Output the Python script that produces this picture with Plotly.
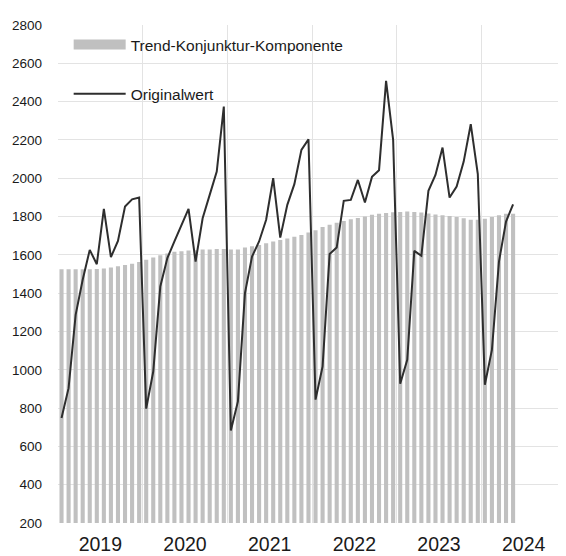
import plotly.graph_objects as go

years = ["2019", "2020", "2021", "2022", "2023", "2024"]

trend = [
    1525, 1525, 1525, 1525, 1525, 1526, 1529, 1534, 1540, 1547, 1553, 1562,
    1575, 1586, 1598, 1607, 1616, 1619, 1623, 1624, 1628, 1628, 1630, 1630,
    1628, 1628, 1638, 1645, 1652, 1661, 1670, 1677, 1685, 1694, 1704, 1717,
    1729, 1746, 1757, 1767, 1777, 1786, 1793, 1800, 1809, 1814, 1819, 1823,
    1824, 1826, 1824, 1821, 1816, 1810, 1807, 1803, 1797, 1791, 1783, 1783,
    1789, 1797, 1807, 1814, 1814,
]

original = [
    748, 904, 1287, 1470, 1626, 1551, 1840, 1588, 1673, 1852, 1890, 1899,
    797, 991, 1435, 1583, 1670, 1760, 1840, 1565, 1791, 1913, 2035, 2374,
    683, 835, 1400, 1591, 1670, 1783, 2000, 1690, 1861, 1969, 2148, 2203,
    844, 1017, 1605, 1638, 1882, 1887, 1991, 1873, 2007, 2042, 2508, 2200,
    927, 1052, 1621, 1595, 1934, 2017, 2160, 1899, 1957, 2087, 2282, 2021,
    922, 1104, 1565, 1774, 1864,
]

months = list(range(len(original)))
n_years = len(years)

FONT = "Liberation Sans, Arial, sans-serif"
BAR_COLOR = "#c0c0c0"
LINE_COLOR = "#2e2e2e"
GRID = "#e3e3e3"
TXT = "#1a1a1a"

fig = go.Figure()
fig.add_trace(go.Bar(
    x=months, y=trend, marker=dict(color=BAR_COLOR, line=dict(width=0)),
    width=0.58, showlegend=False, name="Trend-Konjunktur-Komponente",
))
fig.add_trace(go.Scatter(
    x=[None], y=[None], mode="lines", name="Trend-Konjunktur-Komponente",
    line=dict(color=BAR_COLOR, width=10), legendgroup="a",
))
fig.add_trace(go.Scatter(
    x=months, y=original, mode="lines", name="Originalwert",
    line=dict(color=LINE_COLOR, width=2), legendgroup="b",
))

fig.update_layout(
    width=558, height=548,
    margin=dict(l=50, r=0, t=17, b=33),
    paper_bgcolor="white", plot_bgcolor="white",
    font=dict(family=FONT, color=TXT),
    showlegend=True,
    legend=dict(
        x=0.021, y=0.994, xanchor="left", yanchor="top",
        font=dict(size=15.5, family=FONT, color=TXT),
        bgcolor="rgba(0,0,0,0)", itemwidth=52, tracegroupgap=26,
        traceorder="grouped",
    ),
    bargap=0.42,
)
fig.update_yaxes(
    range=[200, 2800], dtick=200, tick0=200, showgrid=True, gridcolor=GRID,
    gridwidth=1, zeroline=False, showline=False, ticks="", automargin=False,
    tickfont=dict(size=13.5, family=FONT, color=TXT), ticklabelstandoff=15,
)
fig.update_xaxes(
    range=[-0.5, 12 * n_years - 0.5], showgrid=False, zeroline=False,
    showline=False, ticks="", automargin=False,
    tickmode="array", tickvals=[12 * i + 5.5 for i in range(n_years)], ticktext=years,
    tickfont=dict(size=19.5, family=FONT, color=TXT), ticklabelstandoff=7,
    minor=dict(tickmode="array", tickvals=[12 * i - 0.5 for i in range(n_years + 1)],
               showgrid=True, gridcolor=GRID, gridwidth=1, ticks=""),
)

fig.write_html("out.html")
